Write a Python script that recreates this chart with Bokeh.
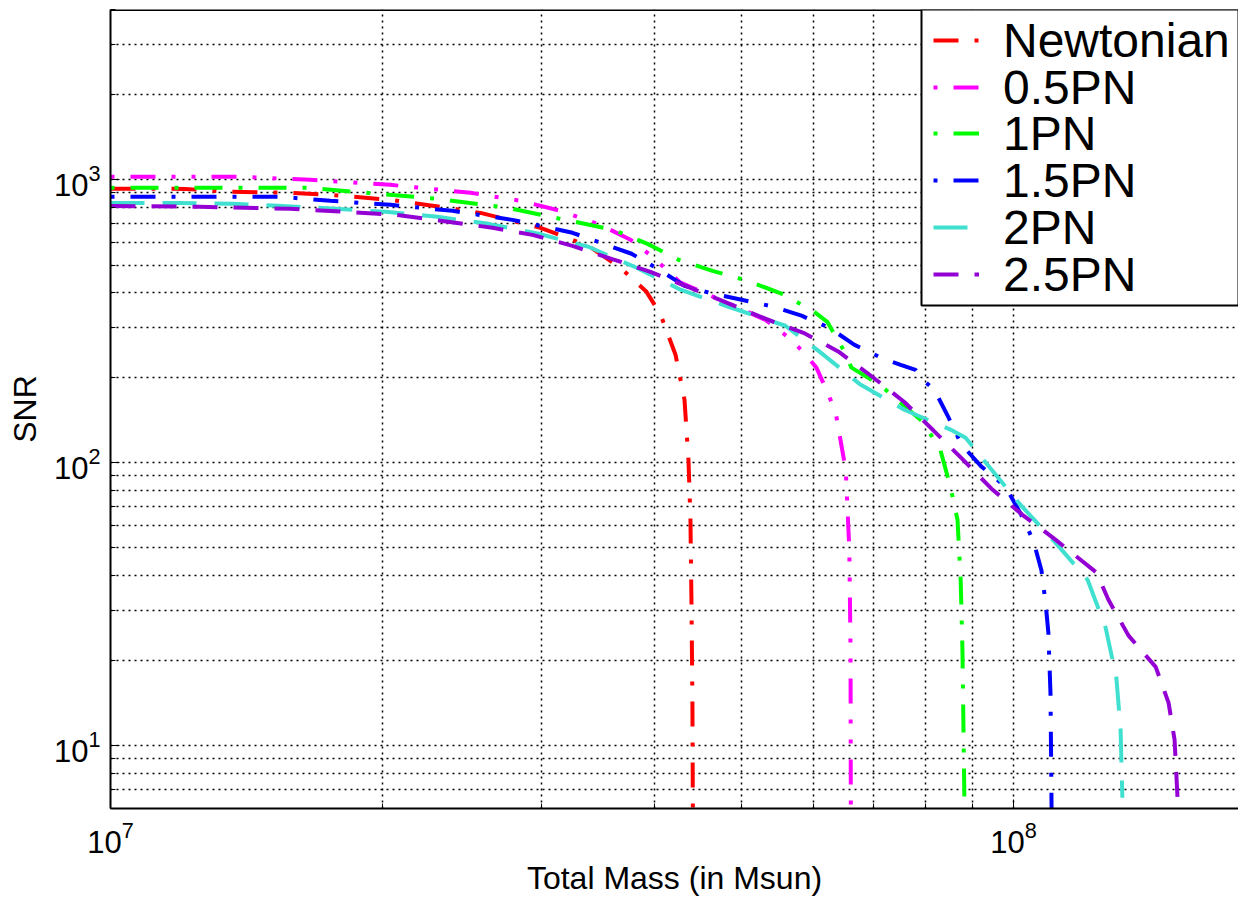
import math
from bokeh.plotting import figure
from bokeh.models import (FixedTicker, LogTickFormatter, Range1d, Span, Legend,
                          LegendItem, BoxAnnotation)
from bokeh.embed import file_html
from bokeh.resources import INLINE

MASS_UNIT = 1e7  # masses below are given in units of 1e7 Msun

labels = ["Newtonian", "0.5PN", "1PN", "1.5PN", "2PN", "2.5PN"]

mass_newt = [1.0, 1.21, 1.358, 1.582, 1.752, 2.042, 2.32, 2.569, 2.994, 3.383, 3.671,
             3.923, 4.066, 4.224, 4.322, 4.366, 4.388, 4.399, 4.41, 4.415, 4.42]
snr_newt = [930, 929, 907, 900, 885, 850, 803, 764, 677, 584, 489,
            402, 334, 241, 167, 102, 63, 33, 14.5, 6, 1]

mass_05pn = [1.0, 1.258, 1.393, 1.665, 2.042, 2.505, 2.845, 3.149, 3.488, 3.766, 3.983,
             4.278, 4.677, 5.313, 5.68, 5.885, 6.05, 6.22, 6.354, 6.452, 6.52, 6.55,
             6.58, 6.60, 6.605, 6.61]
snr_05pn = [1025, 1025, 1025, 1000, 960, 900, 843, 777, 693, 614, 535,
            433, 383, 320, 272, 241, 217, 178, 151, 114, 94.5, 68.3,
            49.3, 21.8, 6, 1]

mass_1pn = [1.0, 1.258, 1.665, 1.916, 2.302, 2.753, 3.149, 3.606, 3.933, 4.256, 4.642,
            5.075, 5.534, 5.99, 6.22, 6.48, 6.615, 7.107, 7.93, 8.30, 8.515, 8.67,
            8.74, 8.78, 8.826, 8.83]
snr_1pn = [937, 937, 937, 900, 857, 796, 728, 666, 594, 522, 477,
           440, 396, 345, 315, 251, 217, 189, 140, 111, 82.3, 62.9,
           38.6, 21.8, 6, 1]

mass_15pn = [1.0, 1.543, 1.752, 2.042, 2.392, 2.787, 3.248, 3.776, 4.035, 4.322, 4.642,
             4.998, 5.424, 5.824, 6.254, 6.667, 7.178, 7.50, 7.79, 7.93, 8.175, 8.47,
             8.758, 9.22, 9.80, 10.2, 10.52, 10.74, 10.85, 10.93, 10.99, 11.02, 11.03]
snr_15pn = [871, 871, 843, 816, 777, 722, 650, 548, 485, 422, 396,
            377, 356, 331, 300, 261, 233, 222, 213, 197, 181, 145,
            116, 96.8, 82.3, 65.5, 53.0, 41.6, 32.3, 25.1, 15.3, 6, 1]

mass_2pn = [1.0, 1.195, 1.365, 1.551, 1.775, 2.017, 2.302, 2.622, 2.978, 3.383, 3.824,
            4.278, 4.835, 5.59, 6.098, 6.753, 7.57, 8.515, 8.85, 9.36, 10.18, 11.13,
            12.08, 12.65, 13.0, 13.14, 13.2]
snr_2pn = [829, 829, 823, 809, 790, 771, 740, 699, 645, 580, 489,
           409, 356, 305, 247, 190, 154, 131, 122.6, 98.4, 71.0, 52.2,
           38.6, 26.1, 17.4, 11.4, 6.55]

mass_25pn = [1.0, 1.258, 1.582, 1.82, 2.069, 2.32, 2.649, 2.933, 3.248, 3.587, 3.963,
             4.388, 4.811, 5.313, 5.853, 6.402, 6.982, 7.57, 8.155, 8.78, 9.454,
             10.23, 11.13, 12.36, 12.74, 13.41, 14.37, 14.85, 15.08, 15.2]
snr_25pn = [809, 803, 790, 771, 752, 717, 677, 639, 584, 526, 473,
            415, 368, 323, 288, 247, 201, 164, 130, 103, 81,
            65.5, 53.5, 40.9, 32.8, 24.5, 19.0, 14.2, 10.5, 6.4]

x_major = [1e7, 1e8]
x_minor = [2e7, 3e7, 4e7, 5e7, 6e7, 7e7, 8e7, 9e7, 2e8]
y_major = [10, 100, 1000]
y_minor = [6, 7, 8, 9, 20, 30, 40, 50, 60, 70, 80, 90,
           200, 300, 400, 500, 600, 700, 800, 900, 2000, 3000, 4000]

x_lim = (1e7, 1.775e8)
y_lim = (6, 4000)

series = [
    (mass_newt, snr_newt, "#ff0000", "25 16 4 16"),
    (mass_05pn, snr_05pn, "#ff00ff", "4 16 25 16 4 16"),
    (mass_1pn, snr_1pn, "#00ff00", "4 16 28 16"),
    (mass_15pn, snr_15pn, "#0000ff", "4 16 25 16"),
    (mass_2pn, snr_2pn, "#40e0d0", "34 18"),
    (mass_25pn, snr_25pn, "#9400d3", "25 16"),
]

FONT = "Liberation Sans"

# layout (pixels)
W, H = 1238, 898
B_LEFT, B_RIGHT, B_TOP, B_BOTTOM = 110, 0, 9, 90
FRAME_W = W - B_LEFT - B_RIGHT
FRAME_H = H - B_TOP - B_BOTTOM

p = figure(width=W, height=H, x_axis_type="log", y_axis_type="log",
           x_range=Range1d(*x_lim), y_range=Range1d(*y_lim),
           output_backend="svg", toolbar_location=None,
           min_border_left=B_LEFT, min_border_right=B_RIGHT,
           min_border_top=B_TOP, min_border_bottom=B_BOTTOM,
           background_fill_color="white", border_fill_color="white")
p.outline_line_color = None

renderers = []
for (m, s, color, dash) in series:
    r = p.line([v * MASS_UNIT for v in m], s, line_color=color, line_width=4,
               line_dash=dash)
    renderers.append(r)

p.xaxis.ticker = FixedTicker(ticks=x_major, minor_ticks=x_minor)
p.yaxis.ticker = FixedTicker(ticks=y_major, minor_ticks=y_minor)
p.xaxis.formatter = LogTickFormatter()
p.yaxis.formatter = LogTickFormatter()

for ax in (p.xaxis[0], p.yaxis[0]):
    ax.axis_line_color = "black"
    ax.axis_line_width = 2
    ax.major_tick_in = 9
    ax.major_tick_out = 0
    ax.minor_tick_in = 5
    ax.minor_tick_out = 0
    ax.major_tick_line_color = "black"
    ax.minor_tick_line_color = "black"
    ax.major_label_text_font = FONT
    ax.major_label_text_font_size = "31px"
    ax.major_label_text_color = "black"
    ax.axis_label_text_font = FONT
    ax.axis_label_text_font_size = "32px"
    ax.axis_label_text_font_style = "normal"
    ax.axis_label_text_color = "black"

p.xaxis.axis_label = "Total Mass (in Msun)"
p.yaxis.axis_label = "SNR"
p.xaxis.major_label_standoff = 12
p.xaxis.axis_label_standoff = 4
p.yaxis.major_label_standoff = 10
p.yaxis.axis_label_standoff = 8

for g in (p.xgrid[0], p.ygrid[0]):
    g.grid_line_color = "black"
    g.grid_line_dash = "2 4"
    g.grid_line_width = 1.5
    g.minor_grid_line_color = "black"
    g.minor_grid_line_dash = "2 4"
    g.minor_grid_line_width = 1.5

p.add_layout(Span(location=y_lim[1], dimension="width", line_color="black", line_width=3))

# legend box: left edge and bottom edge given in canvas pixels, converted via the axis ranges
BOX_LEFT_PX, BOX_BOTTOM_PX = 921, 305
lx0, lx1 = math.log10(x_lim[0]), math.log10(x_lim[1])
ly0, ly1 = math.log10(y_lim[0]), math.log10(y_lim[1])
box_left = 10 ** (lx0 + (BOX_LEFT_PX - B_LEFT) / FRAME_W * (lx1 - lx0))
box_bottom = 10 ** (ly0 + (B_TOP + FRAME_H - BOX_BOTTOM_PX) / FRAME_H * (ly1 - ly0))
p.add_layout(BoxAnnotation(left=box_left, bottom=box_bottom, fill_color="white",
                           fill_alpha=1.0, line_color="black", line_width=2, line_alpha=1.0))

# one single-item legend per entry so that the row pitch matches the original
ITEM_H = 55
GLYPH_LEFT_PX = 933
row_centers_px = [40, 87, 133, 180, 227, 274]
for lab, r, cy in zip(labels, renderers, row_centers_px):
    lg = Legend(items=[LegendItem(label=lab, renderers=[r])],
                location=(GLYPH_LEFT_PX - B_LEFT, B_TOP + FRAME_H - cy - ITEM_H / 2),
                margin=0, padding=0, spacing=0,
                glyph_width=46, glyph_height=40, label_height=40, label_standoff=24,
                label_text_font=FONT, label_text_font_size="48px",
                label_text_color="black", border_line_color=None,
                background_fill_alpha=0.0)
    p.add_layout(lg)

open("out.html", "w").write(file_html(p, INLINE))
